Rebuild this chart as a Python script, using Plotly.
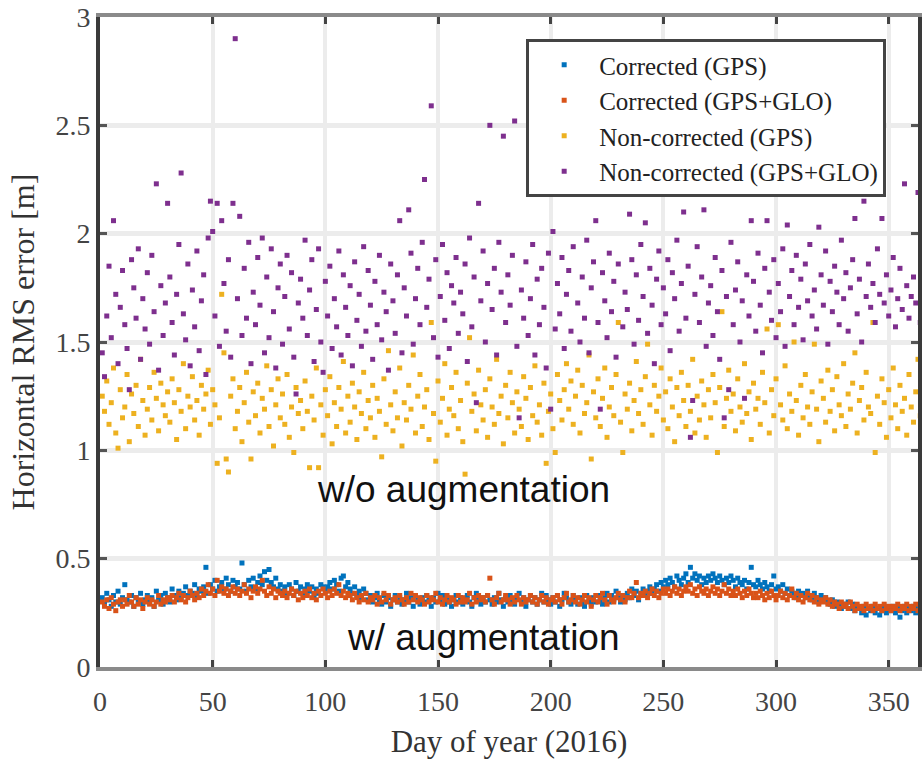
import plotly.graph_objects as go

days = list(range(1, 367))

corr_gps = [
    0.32, 0.29, 0.34, 0.31, 0.28, 0.33, 0.30, 0.35, 0.29, 0.32,
    0.38, 0.31, 0.30, 0.33, 0.28, 0.32, 0.30, 0.34, 0.29, 0.31,
    0.33, 0.30, 0.32, 0.28, 0.35, 0.31, 0.33, 0.29, 0.34, 0.32,
    0.30, 0.36, 0.33, 0.31, 0.35, 0.32, 0.34, 0.37, 0.33, 0.35,
    0.34, 0.38, 0.33, 0.36, 0.35, 0.37, 0.46, 0.34, 0.38, 0.36,
    0.40, 0.35, 0.37, 0.39, 0.36, 0.41, 0.38, 0.35, 0.40, 0.37,
    0.39, 0.36, 0.48, 0.38, 0.35, 0.40, 0.37, 0.41, 0.36, 0.39,
    0.42, 0.38, 0.44, 0.40, 0.45, 0.39, 0.37, 0.41, 0.36, 0.38,
    0.35, 0.37, 0.34, 0.38, 0.36, 0.33, 0.39, 0.35, 0.37, 0.34,
    0.36, 0.38, 0.35, 0.37, 0.33, 0.36, 0.34, 0.38, 0.37, 0.35,
    0.37, 0.39, 0.36, 0.40, 0.38, 0.35, 0.41, 0.42, 0.37, 0.39,
    0.36, 0.34, 0.37, 0.33, 0.35, 0.32, 0.36, 0.34, 0.31, 0.33,
    0.30, 0.32, 0.34, 0.31, 0.29, 0.33, 0.30, 0.32, 0.28, 0.31,
    0.33, 0.30, 0.32, 0.29, 0.31, 0.34, 0.30, 0.32, 0.28, 0.33,
    0.31, 0.29, 0.32, 0.30, 0.33, 0.31, 0.28, 0.32, 0.30, 0.34,
    0.31, 0.33, 0.29, 0.32, 0.30, 0.28, 0.31, 0.33, 0.30, 0.32,
    0.29, 0.31, 0.33, 0.30, 0.28, 0.32, 0.34, 0.31, 0.29, 0.32,
    0.30, 0.33, 0.31, 0.29, 0.32, 0.30, 0.34, 0.31, 0.28, 0.32,
    0.30, 0.33, 0.31, 0.29, 0.32, 0.34, 0.30, 0.32, 0.28, 0.31,
    0.33, 0.30, 0.32, 0.29, 0.31, 0.34, 0.30, 0.33, 0.31, 0.29,
    0.32, 0.30, 0.33, 0.28, 0.31, 0.34, 0.32, 0.30, 0.29, 0.33,
    0.31, 0.29, 0.32, 0.30, 0.28, 0.33, 0.31, 0.29, 0.32, 0.30,
    0.33, 0.31, 0.29, 0.32, 0.34, 0.30, 0.33, 0.31, 0.35, 0.32,
    0.30, 0.33, 0.31, 0.34, 0.32, 0.36, 0.33, 0.35, 0.31, 0.34,
    0.36, 0.33, 0.35, 0.37, 0.34, 0.36, 0.38, 0.35, 0.39, 0.37,
    0.40, 0.38, 0.41, 0.39, 0.37, 0.42, 0.40, 0.38, 0.41, 0.43,
    0.39, 0.46, 0.41, 0.43, 0.40, 0.42, 0.38, 0.41, 0.39, 0.42,
    0.40, 0.43, 0.41, 0.39, 0.42, 0.40, 0.38, 0.41, 0.39, 0.42,
    0.40, 0.37, 0.41, 0.39, 0.38, 0.40, 0.36, 0.39, 0.46, 0.38,
    0.37, 0.40, 0.38, 0.36, 0.39, 0.37, 0.35, 0.38, 0.42, 0.36,
    0.37, 0.35, 0.38, 0.34, 0.36, 0.33, 0.35, 0.34, 0.32, 0.35,
    0.33, 0.34, 0.32, 0.35, 0.33, 0.31, 0.34, 0.32, 0.30, 0.33,
    0.31, 0.32, 0.30, 0.29, 0.31, 0.28, 0.30, 0.29, 0.27, 0.29,
    0.28, 0.30, 0.27, 0.29, 0.26, 0.28, 0.27, 0.25, 0.28, 0.24,
    0.27, 0.26, 0.28, 0.25, 0.27, 0.24, 0.26, 0.28, 0.25, 0.27,
    0.26, 0.28, 0.25, 0.27, 0.23, 0.26, 0.28, 0.25, 0.27, 0.26,
    0.28, 0.25, 0.27, 0.26, 0.24, 0.27,
]

corr_gps_glo = [
    0.30, 0.28, 0.31, 0.27, 0.32, 0.29, 0.26, 0.30, 0.31, 0.28,
    0.31, 0.29, 0.33, 0.30, 0.28, 0.32, 0.29, 0.31, 0.27, 0.30,
    0.32, 0.29, 0.31, 0.28, 0.30, 0.33, 0.29, 0.31, 0.30, 0.32,
    0.31, 0.33, 0.30, 0.32, 0.34, 0.31, 0.33, 0.30, 0.32, 0.35,
    0.33, 0.31, 0.34, 0.32, 0.36, 0.33, 0.35, 0.38, 0.34, 0.36,
    0.33, 0.40, 0.35, 0.37, 0.34, 0.36, 0.33, 0.35, 0.37, 0.34,
    0.36, 0.33, 0.35, 0.38, 0.34, 0.36, 0.32, 0.35, 0.37, 0.34,
    0.36, 0.40, 0.35, 0.33, 0.37, 0.34, 0.36, 0.32, 0.35, 0.34,
    0.33, 0.35, 0.32, 0.34, 0.36, 0.33, 0.35, 0.31, 0.34, 0.32,
    0.35, 0.33, 0.36, 0.32, 0.34, 0.31, 0.35, 0.33, 0.36, 0.34,
    0.32, 0.35, 0.33, 0.36, 0.34, 0.38, 0.33, 0.35, 0.32, 0.34,
    0.33, 0.31, 0.34, 0.32, 0.30, 0.33, 0.31, 0.34, 0.30, 0.32,
    0.31, 0.33, 0.29, 0.32, 0.30, 0.34, 0.31, 0.33, 0.29, 0.31,
    0.32, 0.30, 0.33, 0.31, 0.29, 0.32, 0.30, 0.34, 0.31, 0.33,
    0.30, 0.32, 0.31, 0.29, 0.33, 0.30, 0.32, 0.31, 0.34, 0.30,
    0.32, 0.29, 0.31, 0.33, 0.30, 0.32, 0.31, 0.29, 0.33, 0.30,
    0.32, 0.30, 0.31, 0.34, 0.29, 0.32, 0.30, 0.33, 0.31, 0.32,
    0.30, 0.33, 0.41, 0.31, 0.29, 0.32, 0.34, 0.30, 0.31, 0.33,
    0.31, 0.29, 0.32, 0.30, 0.33, 0.31, 0.29, 0.32, 0.30, 0.31,
    0.33, 0.30, 0.32, 0.29, 0.31, 0.33, 0.30, 0.32, 0.29, 0.31,
    0.32, 0.30, 0.33, 0.31, 0.29, 0.32, 0.34, 0.30, 0.31, 0.33,
    0.30, 0.32, 0.29, 0.31, 0.33, 0.30, 0.32, 0.28, 0.31, 0.33,
    0.30, 0.32, 0.34, 0.31, 0.29, 0.33, 0.31, 0.30, 0.32, 0.34,
    0.31, 0.33, 0.30, 0.32, 0.35, 0.32, 0.34, 0.39, 0.32, 0.34,
    0.33, 0.35, 0.32, 0.34, 0.36, 0.33, 0.35, 0.32, 0.34, 0.36,
    0.34, 0.36, 0.33, 0.35, 0.37, 0.34, 0.36, 0.33, 0.35, 0.37,
    0.35, 0.38, 0.34, 0.36, 0.33, 0.37, 0.35, 0.34, 0.36, 0.33,
    0.35, 0.37, 0.34, 0.36, 0.33, 0.35, 0.38, 0.34, 0.36, 0.33,
    0.35, 0.33, 0.36, 0.34, 0.32, 0.35, 0.33, 0.36, 0.34, 0.32,
    0.34, 0.32, 0.35, 0.33, 0.31, 0.34, 0.32, 0.35, 0.33, 0.31,
    0.33, 0.35, 0.32, 0.34, 0.31, 0.33, 0.36, 0.32, 0.34, 0.31,
    0.33, 0.30, 0.32, 0.34, 0.31, 0.33, 0.30, 0.32, 0.29, 0.31,
    0.30, 0.32, 0.29, 0.31, 0.28, 0.30, 0.29, 0.27, 0.30, 0.28,
    0.29, 0.27, 0.30, 0.28, 0.26, 0.29, 0.27, 0.28, 0.26, 0.29,
    0.27, 0.28, 0.26, 0.29, 0.27, 0.28, 0.26, 0.29, 0.27, 0.28,
    0.26, 0.28, 0.27, 0.29, 0.26, 0.28, 0.27, 0.29, 0.26, 0.28,
    0.27, 0.29, 0.26, 0.28, 0.27, 0.28,
]

noncorr_gps = [
    1.25, 1.18, 1.32, 1.12, 1.22, 1.38, 1.08, 1.01, 1.28, 1.15,
    1.20, 1.35, 1.04, 1.26, 1.17, 1.30, 1.11, 1.42, 1.23, 1.07,
    1.19, 1.29, 1.14, 1.36, 1.24, 1.09, 1.31, 1.21, 1.16, 1.27,
    1.13, 1.33, 1.22, 1.05, 1.28, 1.18, 1.40, 1.10, 1.25, 1.20,
    1.34, 1.14, 1.23, 1.07, 1.30, 1.19, 1.26, 1.37, 1.12, 1.28,
    1.21, 0.94, 1.15, 1.72, 1.45, 0.96, 0.90, 1.25, 1.33, 1.10,
    1.18, 1.29, 1.04, 1.22, 1.36, 1.13, 0.96, 1.27, 1.16, 1.31,
    1.08, 1.24, 1.19, 1.39, 1.11, 1.28, 1.02, 1.21, 1.33, 1.15,
    1.26, 1.12, 1.35, 1.06, 1.20, 0.99, 1.29, 1.17, 1.23, 1.10,
    1.32, 1.18, 0.92, 1.25, 1.14, 1.38, 0.92, 1.21, 1.07, 1.28,
    1.16, 1.34, 1.03, 1.22, 1.11, 1.29, 1.19, 1.41, 1.08, 1.25,
    1.13, 1.31, 1.20, 1.05, 1.27, 1.17, 1.36, 1.10, 1.23, 1.15,
    1.30, 1.06, 1.24, 1.18, 0.97, 1.33, 1.12, 1.46, 1.21, 1.09,
    1.27, 1.15, 1.38, 1.02, 1.22, 1.14, 1.30, 1.19, 1.44, 1.08,
    1.25, 1.35, 1.11, 1.20, 1.28, 1.05, 1.59, 1.17, 0.95, 1.32,
    1.13, 1.24, 1.40, 1.07, 1.19, 1.29, 1.16, 1.36, 1.10, 1.23,
    1.04, 0.89, 1.31, 1.52, 1.18, 1.26, 1.09, 1.37, 1.21, 1.14,
    1.28, 1.06, 1.33, 1.20, 1.12, 1.42, 1.17, 1.25, 1.03, 1.30,
    1.15, 1.36, 1.22, 1.08, 1.27, 1.19, 1.11, 1.34, 1.24, 1.05,
    1.29, 1.16, 1.39, 1.13, 1.21, 1.07, 1.31, 0.94, 1.18, 1.26,
    1.10, 0.99, 1.35, 1.23, 1.14, 1.28, 1.40, 1.19, 1.32, 1.12,
    1.25, 1.37, 1.08, 1.30, 1.17, 1.22, 1.44, 0.96, 1.27, 1.15,
    1.33, 1.11, 1.24, 1.38, 1.06, 1.20, 1.29, 1.16, 1.35, 1.59,
    1.13, 0.99, 1.26, 1.19, 1.31, 1.09, 1.23, 1.41, 1.17, 1.28,
    1.12, 1.34, 1.49, 1.21, 1.07, 1.30, 1.18, 1.25, 1.38, 1.14,
    1.27, 1.10, 1.33, 1.20, 1.04, 1.29, 1.16, 1.36, 1.23, 1.11,
    1.30, 1.18, 1.42, 1.08, 1.25, 1.14, 1.32, 1.21, 1.06, 1.28,
    1.15, 1.35, 1.22, 0.99, 1.29, 1.64, 1.11, 1.24, 1.37, 1.18,
    1.26, 1.09, 1.33, 1.20, 1.13, 1.40, 1.17, 1.27, 1.05, 1.31,
    1.19, 1.24, 1.12, 1.36, 1.22, 1.56, 1.08, 1.28, 1.16, 1.33,
    1.58, 1.21, 1.14, 1.39, 1.10, 1.26, 1.18, 1.50, 1.23, 1.07,
    1.30, 1.15, 1.35, 1.20, 1.12, 1.27, 1.49, 1.19, 1.04, 1.32,
    1.24, 1.13, 1.37, 1.18, 1.28, 1.09, 1.34, 1.21, 1.16, 1.40,
    1.11, 1.26, 1.19, 1.31, 1.45, 1.08, 1.23, 1.29, 1.14, 1.36,
    1.20, 1.17, 1.59, 0.99, 1.25, 1.12, 1.33, 1.22, 1.06, 1.28,
    1.15, 1.38, 1.21, 1.10, 1.30, 1.18, 1.24, 1.07, 1.35, 1.20,
    1.13, 1.27, 1.42, 1.16, 1.31, 1.22,
]

noncorr_gps_glo = [
    1.45, 1.34, 1.62, 1.85, 1.52, 2.06, 1.72, 1.40, 1.66, 1.83,
    1.58, 1.47, 1.28, 1.88, 1.75, 1.61, 1.93, 1.42, 1.70, 1.56,
    1.82, 1.49, 1.90, 1.64, 2.23, 1.37, 1.76, 1.53, 1.68, 2.14,
    1.80, 1.59, 1.44, 1.72, 1.95, 2.28, 1.63, 1.51, 1.86, 1.39,
    1.74, 1.57, 1.92, 1.46, 1.69, 1.81, 1.35, 1.98, 2.15, 2.01,
    1.62, 2.14, 1.48, 2.06, 1.77, 1.55, 1.88, 1.43, 2.14, 2.90,
    1.70, 2.08, 1.53, 1.84, 1.61, 1.96, 1.40, 1.73, 1.58, 1.89,
    1.67, 1.98, 1.45, 1.80, 1.52, 1.93, 1.64, 1.38, 1.75, 1.86,
    1.49, 1.71, 1.90, 1.56, 1.82, 1.43, 1.26, 1.68, 1.79, 1.61,
    1.97, 1.53, 1.74, 1.88, 1.41, 1.65, 1.93, 1.50, 1.36, 1.78,
    1.62, 1.85, 1.47, 1.70, 1.57, 1.92, 1.44, 1.81, 1.66, 1.53,
    1.76, 1.39, 1.87, 1.60, 1.72, 1.48, 1.94, 1.55, 1.83, 1.67,
    1.42, 1.78, 1.58, 1.90, 1.51, 1.73, 1.64, 1.37, 1.86, 1.69,
    1.54, 1.81, 2.06, 1.45, 1.75, 1.62, 2.11, 1.91, 1.49, 1.70,
    1.84, 1.58, 1.96, 2.25, 1.66, 1.79, 2.59, 1.52, 1.88, 1.43,
    1.71, 1.95, 1.60, 1.82, 1.47, 1.76, 1.68, 1.89, 1.54, 1.73,
    1.63, 1.86, 1.41, 1.98, 1.57, 1.80, 1.22, 2.14, 1.69, 1.92,
    1.50, 1.77, 2.50, 1.65, 1.84, 1.44, 1.96, 1.73, 2.45, 1.59,
    1.81, 1.67, 1.90, 2.52, 1.48, 1.15, 1.74, 1.61, 1.87, 1.53,
    1.70, 1.95, 1.44, 1.79, 1.58, 1.84, 1.66, 1.38, 1.91, 1.19,
    2.01, 1.56, 1.77, 1.63, 1.89, 1.47, 1.72, 1.83, 1.55, 1.94,
    2.21, 1.68, 1.50, 1.80, 1.61, 1.97, 1.45, 1.75, 1.87, 2.06,
    1.59, 1.19, 1.82, 1.69, 1.52, 1.91, 1.64, 1.78, 1.43, 1.86,
    2.20, 1.57, 1.73, 1.65, 2.09, 1.88, 1.49, 1.81, 1.60, 1.95,
    1.71, 2.05, 1.54, 1.84, 1.67, 1.40, 1.79, 1.92, 1.58, 1.75,
    1.63, 1.88, 1.46, 1.82, 1.70, 1.97, 1.55, 1.77, 2.10, 1.61,
    1.85, 1.06, 1.23, 1.72, 1.94, 1.59, 1.80, 2.11, 1.48, 1.68,
    1.76, 1.53, 1.89, 1.64, 1.42, 1.83, 1.15, 1.71, 1.28, 1.96,
    1.58, 1.74, 1.87, 1.50, 1.69, 1.24, 1.81, 1.62, 2.06, 1.78,
    1.55, 1.91, 1.67, 1.45, 1.84, 2.06, 1.73, 1.60, 1.88, 1.52,
    1.77, 1.64, 1.93, 1.48, 2.04, 1.71, 1.83, 1.58, 1.90, 1.66,
    1.79, 1.51, 1.86, 1.69, 1.95, 1.62, 1.74, 1.56, 2.03, 1.81,
    1.67, 1.92, 1.49, 1.78, 1.64, 1.85, 1.73, 1.58, 1.97, 1.70,
    1.82, 1.55, 1.75, 1.88, 2.07, 1.63, 1.79, 1.50, 2.15, 1.71,
    1.86, 1.66, 1.77, 1.59, 1.93, 1.72, 2.07, 1.68, 1.81, 1.62,
    1.74, 1.89, 1.57, 1.70, 1.84, 1.65, 2.23, 1.76, 1.61, 1.71,
    1.80, 1.68, 2.19, 1.59, 2.10, 1.73,
]

series_names = ["Corrected (GPS)", "Corrected (GPS+GLO)",
                "Non-corrected (GPS)", "Non-corrected (GPS+GLO)"]
series_values = [corr_gps, corr_gps_glo, noncorr_gps, noncorr_gps_glo]
series_colors = ["#0072BD", "#D95319", "#EDB120", "#7E2F8E"]

x_ticks = [0, 50, 100, 150, 200, 250, 300, 350]
y_ticks = [0, 0.5, 1, 1.5, 2, 2.5, 3]
y_tick_labels = ["0", "0.5", "1", "1.5", "2", "2.5", "3"]

SERIF = "Liberation Serif, Times New Roman, serif"
SANS = "Liberation Sans, Arial, sans-serif"

fig = go.Figure()
for name, vals, col in zip(series_names, series_values, series_colors):
    fig.add_trace(go.Scatter(
        x=days, y=vals, mode="markers", name=name,
        marker=dict(symbol="square", size=5, color=col, line=dict(width=0)),
    ))

fig.add_annotation(x=161.5, y=0.82, xref="x", yref="y", text="w/o augmentation",
                   showarrow=False, font=dict(family=SANS, size=37, color="#111"))
fig.add_annotation(x=170, y=0.135, xref="x", yref="y", text="w/ augmentation",
                   showarrow=False, font=dict(family=SANS, size=37, color="#111"))

fig.update_layout(
    width=924, height=762,
    margin=dict(l=100, r=2, t=16, b=95),
    paper_bgcolor="white", plot_bgcolor="white",
    showlegend=True,
    legend=dict(
        x=0.521, y=0.966, xanchor="left", yanchor="top",
        bgcolor="white", bordercolor="#444", borderwidth=3,
        font=dict(family=SERIF, size=25, color="#222"),
        itemwidth=60, tracegroupgap=0,
    ),
    xaxis=dict(
        range=[0, 363], tickvals=x_ticks, ticktext=[str(t) for t in x_ticks],
        showgrid=True, gridcolor="#ececec", gridwidth=4,
        zeroline=False, showline=True, linecolor="#8a8a8a", linewidth=4,
        mirror="ticks", ticks="inside", ticklen=7, tickwidth=3, tickcolor="#444",
        tickfont=dict(family=SERIF, size=28, color="#444"),
        ticklabelstandoff=6,
        title=dict(text="Day of year (2016)", font=dict(family=SERIF, size=31, color="#333"),
                   standoff=16),
    ),
    yaxis=dict(
        range=[0, 3], tickvals=y_ticks, ticktext=y_tick_labels,
        showgrid=True, gridcolor="#ececec", gridwidth=5,
        zeroline=False, showline=True, linecolor="#3a3a3a", linewidth=4,
        mirror="ticks", ticks="inside", ticklen=7, tickwidth=3, tickcolor="#555",
        tickfont=dict(family=SERIF, size=28, color="#444"),
        title=dict(text="Horizontal RMS error [m]", font=dict(family=SERIF, size=32, color="#333"),
                   standoff=12),
    ),
)

fig.write_html("out.html")
